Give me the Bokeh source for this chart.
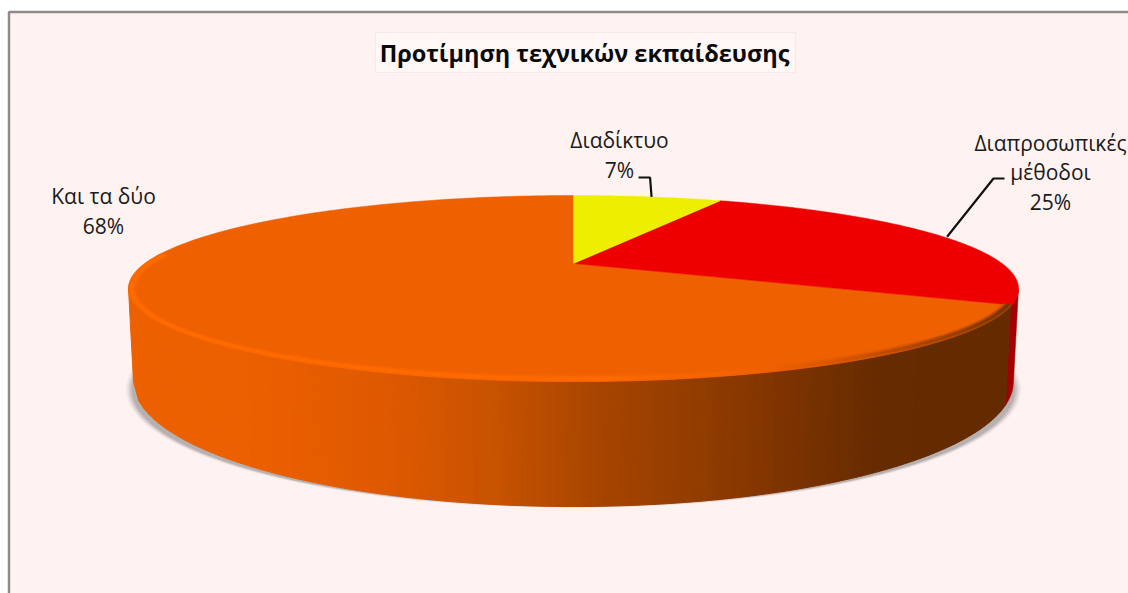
import numpy as np
from bokeh.core.properties import value
from bokeh.embed import file_html
from bokeh.models import ColumnDataSource, Range1d
from bokeh.plotting import figure
from bokeh.resources import INLINE

# Chart content
title_text = "Προτίμηση τεχνικών εκπαίδευσης"
categories = ["Διαδίκτυο", "Διαπροσωπικές μέθοδοι", "Και τα δύο"]
shares = [7, 25, 68]
top_colors = ["#EEEE00", "#EE0000", "#EE6000"]

WIDTH, HEIGHT = 1128, 593
BG = "#FFF3F2"
FONT = value("Open Sans")

# Perspective projection of the pie disc onto the page (pixels, y down)
APEX_X, APEX_Y = 573.0, 263.0
TILT, DEPTH_SCALE, WIDTH_SCALE = 0.269, 86.3, 428.6

# Outlines of the disc's upper rim and its base, as page ellipses
RIM = dict(cy=288.0, rx=445.0, ry=93.0)
BASE = dict(cy=381.0, rx=440.0, ry=125.0)
SEAM_T = 0.982


def project(theta):
    """theta runs clockwise from twelve o'clock, in radians."""
    u, v = np.sin(theta), np.cos(theta)
    d = 1 + TILT * v
    return APEX_X + WIDTH_SCALE * u / d, APEX_Y - DEPTH_SCALE * v / d


def front(t, e):
    """Point on the near half of ellipse e; t goes from -1 (left) to 1 (right)."""
    return APEX_X + e["rx"] * t, e["cy"] + e["ry"] * np.sqrt(np.clip(1 - t * t, 0, 1))


def mix(stops, x):
    xs = [s[0] for s in stops]
    chans = [np.interp(x, xs, [s[1][i] for s in stops]) for i in range(3)]
    return "#%02x%02x%02x" % tuple(int(round(c)) for c in chans)


p = figure(width=WIDTH, height=HEIGHT, output_backend="svg", toolbar_location=None,
           x_range=Range1d(0, WIDTH), y_range=Range1d(HEIGHT, 0),
           x_axis_type=None, y_axis_type=None, min_border=0,
           background_fill_color="white", border_fill_color="white", outline_line_color=None)
p.grid.visible = False

# Chart area with its grey frame, running past the right and bottom edges
p.quad(left=[8.5], right=[WIDTH + 20], top=[11.5], bottom=[HEIGHT + 20],
       fill_color=BG, line_color="#8C8C8C", line_width=2.5)

# Title with its pale box
p.quad(left=[375], right=[795], top=[32], bottom=[72], fill_color="#FFF7F6", line_color="#F6E9E8", line_width=1)
p.text(x=[584], y=[52], text=[title_text], text_align="center", text_baseline="middle",
       text_font=FONT, text_font_size="23.5px", text_font_style="bold", text_color="#0A0A0A")

# Soft shadow under the disc
full = np.linspace(0, 2 * np.pi, 361)
for rx, ry, alpha in [(447.5, 118.4, 0.06), (446, 118, 0.08), (444.5, 117.6, 0.10),
                      (443, 117.3, 0.12), (441.5, 117, 0.14)]:
    p.patch(APEX_X + rx * np.sin(full), 389 + ry * np.cos(full), fill_color="#555555",
            fill_alpha=alpha, line_color=None)

# Side wall: dark red sliver for the second wedge, shaded orange for the third
t_red = np.linspace(SEAM_T, 1, 12)
x1, y1 = front(t_red, RIM)
x2, y2 = front(t_red[::-1], BASE)
p.patch(np.r_[x1, x2], np.r_[y1, y2], fill_color="#A40000", line_color="#A40000", line_width=0.5)

wall_stops = [(130, (236, 96, 0)), (235, (236, 96, 0)), (320, (230, 92, 0)), (400, (220, 88, 0)), (500, (198, 82, 0)),
              (600, (166, 68, 0)), (700, (146, 60, 0)), (800, (122, 50, 0)), (880, (102, 43, 0)), (1020, (100, 42, 0))]
t_wall = np.linspace(-1, SEAM_T, 170)
xs, ys, cols = [], [], []
for a, b in zip(t_wall[:-1], t_wall[1:]):
    ax, ay = front(a, RIM)
    bx, by = front(b, RIM)
    cx, cy = front(b, BASE)
    dx, dy = front(a, BASE)
    xs.append([ax, bx, cx, dx])
    ys.append([ay, by, cy, dy])
    cols.append(mix(wall_stops, (ax + bx) / 2))
p.patches(xs, ys, fill_color=cols, line_color=cols, line_width=1)

# Cumulative wedge boundaries in radians
edges = np.cumsum([0] + shares) / sum(shares) * 2 * np.pi

# Top face wedges; the largest first so the others sit on top
for i in [2, 1, 0]:
    th = np.linspace(edges[i], edges[i + 1], 200)
    wx, wy = project(th)
    p.patch(np.r_[APEX_X, wx], np.r_[APEX_Y, wy], fill_color=top_colors[i], line_color=top_colors[i], line_width=0.5)

# Bevel along the front rim of the largest wedge, built from nested soft rings
bevel_stops = [(120, (255, 108, 0)), (600, (255, 106, 0)), (760, (242, 98, 0)), (860, (205, 82, 0)), (1015, (112, 48, 0))]
face_rgb = (238, 96, 0)
theta_bevel = np.linspace(edges[2], 1.5 * np.pi + 0.12, 170)
# Each ring: inner and outer scale towards the rim centre, and its strength
rings = [(0.925, 0.94, 0.25), (0.94, 0.955, 0.6), (0.955, 0.975, 1.0), (0.975, 0.99, 1.0), (0.99, 1.0, 0.7)]


def shrink_x(q, s):
    return APEX_X + (q - APEX_X) * (1 - (1 - s) * 0.26)


def shrink_y(q, s):
    return RIM["cy"] + (q - RIM["cy"]) * s


for s_in, s_out, weight in rings:
    xs, ys, cols = [], [], []
    stops = [(x0, tuple(f + (c - f) * weight for f, c in zip(face_rgb, col))) for x0, col in bevel_stops]
    for a, b in zip(theta_bevel[:-1], theta_bevel[1:]):
        ax, ay = project(a)
        bx, by = project(b)
        xs.append([shrink_x(ax, s_out), shrink_x(bx, s_out), shrink_x(bx, s_in), shrink_x(ax, s_in)])
        ys.append([shrink_y(ay, s_out), shrink_y(by, s_out), shrink_y(by, s_in), shrink_y(ay, s_in)])
        cols.append(mix(stops, (ax + bx) / 2))
    p.patches(xs, ys, fill_color=cols, line_color=cols, line_width=0.5)

# Leader lines start at the middle of each small wedge's outer edge
mid = (edges[:-1] + edges[1:]) / 2
lead0 = project(mid[0])
lead1 = project(mid[1])
p.line([lead0[0] + 4, lead0[0] + 2.5, lead0[0] - 9], [lead0[1], 177, 177], line_color="#111111", line_width=2.2)
p.line([lead1[0] + 4, 993, 1004], [lead1[1], 178, 178], line_color="#111111", line_width=2.2)

# Data labels
label_x = [619, 1050, 103]
percent = [f"{s}%" for s in shares]
label_lines = [[categories[0], percent[0]],
               ["Διαπροσωπικές", "μέθοδοι", percent[1]],
               [categories[2], percent[2]]]
label_ys = [[139, 169], [142, 171, 201], [195, 225]]
for x0, lines, ypos in zip(label_x, label_lines, label_ys):
    src = ColumnDataSource(dict(x=[x0] * len(lines), y=ypos, t=lines))
    p.text(x="x", y="y", text="t", source=src, text_align="center", text_baseline="middle",
           text_font=FONT, text_font_size="21px", text_color="#1A1A1A")

open("out.html", "w").write(file_html(p, INLINE))
